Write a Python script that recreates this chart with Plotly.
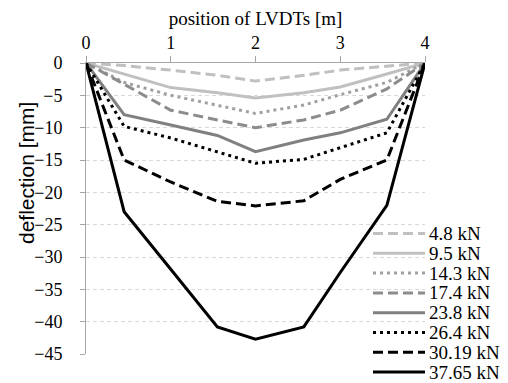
import plotly.graph_objects as go

positions = [0, 0.45, 1, 1.55, 2, 2.57, 3, 3.55, 4]

loads = ["4.8 kN", "9.5 kN", "14.3 kN", "17.4 kN", "23.8 kN", "26.4 kN", "30.19 kN", "37.65 kN"]

d_4_8 = [0, -0.4, -1.1, -1.9, -2.8, -1.9, -1.1, -0.5, 0]
d_9_5 = [0, -1.7, -3.8, -4.6, -5.4, -4.6, -3.7, -1.7, 0]
d_14_3 = [0, -3.0, -5.0, -6.5, -7.8, -6.5, -4.9, -3.0, 0]
d_17_4 = [0, -3.3, -7.3, -8.8, -10.0, -8.8, -7.3, -4.0, 0]
d_23_8 = [0, -8.0, -9.6, -11.2, -13.7, -11.9, -10.8, -8.7, 0]
d_26_4 = [0, -9.8, -11.6, -13.7, -15.5, -14.9, -13.1, -10.8, 0]
d_30_19 = [0, -15.0, -18.4, -21.4, -22.1, -21.3, -18.0, -15.0, 0]
d_37_65 = [0, -23.0, -31.9, -40.8, -42.7, -40.8, -32.4, -22.0, 0]

series = [d_4_8, d_9_5, d_14_3, d_17_4, d_23_8, d_26_4, d_30_19, d_37_65]
colors = ["#C0C0C0", "#C0C0C0", "#A0A0A0", "#8C8C8C", "#808080", "#000000", "#000000", "#000000"]
dashes = ["10px,5px", "solid", "3px,4px", "10px,5px", "solid", "3px,4px", "10px,5px", "solid"]

FONT = "Times New Roman, Liberation Serif, serif"
SANS = "Arial, Liberation Sans, sans-serif"

# the page adds an 8px body margin; the figure is sized to fit inside the window
PAD = 8
W, H = 508 - PAD, 383 - PAD
L, T = 86 - PAD, 63 - PAD
R = W - (425 - PAD)
B = H - (354 - PAD)
pw, ph = W - L - R, H - T - B


def px_x(px):
    return (px - PAD - L) / pw


def px_y(py):
    return (H - B - (py - PAD)) / ph


fig = go.Figure()
for name, ys, c, d in zip(loads, series, colors, dashes):
    fig.add_trace(go.Scatter(
        x=positions, y=ys, mode="lines", name=name,
        line=dict(color=c, width=3, dash=d), showlegend=False,
    ))

# legend (drawn manually to match the compact row spacing); page pixel positions
leg_x0, leg_x1, leg_tx = 373, 425, 427
leg_y0, leg_dy = 233.5, 19.8
for i, (name, c, d) in enumerate(zip(loads, colors, dashes)):
    yp = px_y(leg_y0 + i * leg_dy)
    fig.add_shape(type="line", xref="paper", yref="paper",
                  x0=px_x(leg_x0), x1=px_x(leg_x1), y0=yp, y1=yp,
                  line=dict(color=c, width=3, dash=d))
    fig.add_annotation(xref="paper", yref="paper", x=px_x(leg_tx), y=yp,
                       text=name, showarrow=False, xanchor="left", yanchor="middle",
                       font=dict(family=FONT, size=19, color="#000000"))

# y-axis title (placed like the original, above the vertical centre)
fig.add_annotation(xref="paper", yref="paper", x=px_x(26), y=px_y(173),
                   text="deflection [mm]", textangle=-90, showarrow=False,
                   xanchor="center", yanchor="middle",
                   font=dict(family=SANS, size=21, color="#000000"))

fig.update_layout(
    width=W, height=H,
    margin=dict(l=L, r=R, t=T, b=B, autoexpand=False),
    paper_bgcolor="white", plot_bgcolor="white",
    font=dict(family=FONT, size=18, color="#000000"),
    showlegend=False,
    xaxis=dict(
        side="top", range=[0, 4], tickvals=[0, 1, 2, 3, 4],
        showgrid=False, zeroline=False,
        showline=True, linecolor="#A6A6A6", linewidth=1,
        ticks="outside", ticklen=6, tickcolor="#A6A6A6",
        title=dict(text="position of LVDTs [m]", standoff=2, font=dict(family=FONT, size=19)),
        tickfont=dict(family=FONT, size=18),
    ),
    yaxis=dict(
        range=[-45, 0], tickvals=[0, -5, -10, -15, -20, -25, -30, -35, -40, -45],
        showgrid=True, gridcolor="#D9D9D9", gridwidth=1, griddash="4px,3px",
        zeroline=False,
        showline=True, linecolor="#A6A6A6", linewidth=1,
        ticks="outside", ticklen=5, tickcolor="#A6A6A6",
        ticklabelstandoff=14,
        tickfont=dict(family=FONT, size=18),
    ),
)

fig.write_html("out.html")
